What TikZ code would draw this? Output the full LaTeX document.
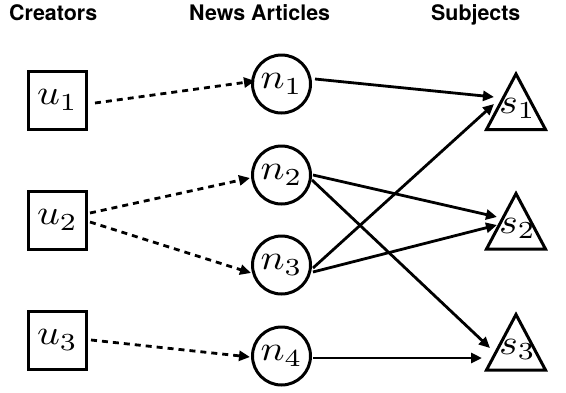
\documentclass[tikz,border=0pt]{standalone}
\usepackage{fontspec}
\newfontfamily\hdrfont{TeX Gyre Heros}
\usetikzlibrary{calc,arrows.meta}
\newcommand{\myBigMath}[1]{\scalebox{4.0}[3.5]{$#1$}}
\tikzset{
  hdr/.style={anchor=base west, inner sep=0pt, font=\hdrfont\bfseries\fontsize{21.4}{25}\selectfont},
  ubox/.style={draw, line width=3pt, minimum size=58pt, inner sep=0pt},
  ncirc/.style={draw, circle, line width=3pt, minimum size=58pt, inner sep=0pt},
  spt/.style={inner sep=0pt, minimum size=0pt},
  stxt/.style={inner sep=0pt, anchor=base},
  tri/.style={line width=3pt, line join=miter},
  tipA/.style={-{Triangle[length=11pt,width=10pt]}},
  dsh/.style={tipA, line width=2.8pt, dash pattern=on 6pt off 5pt},
  sld/.style={tipA, line width=2.8pt},
}
\begin{document}
\begin{tikzpicture}[x=1pt,y=-1pt]
\useasboundingbox (0,0) rectangle (566,392);
% headers
\node[hdr] (hc) at (9,20) {Creators};
\node[hdr] (hn) at (189,20) {News Articles};
\node[hdr] (hs) at (431,20) {Subjects};
% creators
\node[ubox] (u1) at (57.5,100) {\myBigMath{u_1}};
\node[ubox] (u2) at (57.5,220) {\myBigMath{u_2}};
\node[ubox] (u3) at (57.5,340) {\myBigMath{u_3}};
% news
\node[ncirc] (n1) at (281.5,84) {\myBigMath{n_1}};
\node[ncirc] (n2) at (281.5,175) {\myBigMath{n_2}};
\node[ncirc] (n3) at (281.5,265) {\myBigMath{n_3}};
\node[ncirc] (n4) at (281.5,356) {\myBigMath{n_4}};
% subjects
\foreach \i/\yy in {1/101,2/220.5,3/341.5}{
  \node[spt] (s\i) at (516,\yy) {};
  \draw[tri] ($(s\i)+(0,-27)$) -- ($(s\i)+(-29.5,28.5)$) -- ($(s\i)+(29.5,28.5)$) -- cycle;
  \node[stxt] (s\i t) at ($(s\i)+(1.5,12.5)$) {\myBigMath{s_\i}};
}
% dashed
\draw[dsh] ($(u1)+(37.5,3)$) -- ($(n1)+(-26.5,-3)$);
\draw[dsh] ($(u2)+(32.5,-7)$) -- ($(n2)+(-31.5,3)$);
\draw[dsh] ($(u2)+(32.5,2)$) -- ($(n3)+(-30.5,8)$);
\draw[dsh] ($(u3)+(33.5,0)$) -- ($(n4)+(-31.5,1)$);
% solid
\draw[sld] ($(n1)+(33.5,-5)$) -- ($(s1)+(-22,-4)$);
\draw[sld] ($(n3)+(31.5,3)$) -- ($(s1)+(-22,3)$);
\draw[sld] ($(n2)+(31.5,0)$) -- ($(s2)+(-19,-3.5)$);
\draw[sld] ($(n3)+(31.5,7)$) -- ($(s2)+(-19,4.5)$);
\draw[sld] ($(n2)+(30.5,5)$) -- ($(s3)+(-26,6.5)$);
\draw[sld] ($(n4)+(31.5,2)$) -- ($(s3)+(-34,16.5)$);
\end{tikzpicture}
\end{document}
